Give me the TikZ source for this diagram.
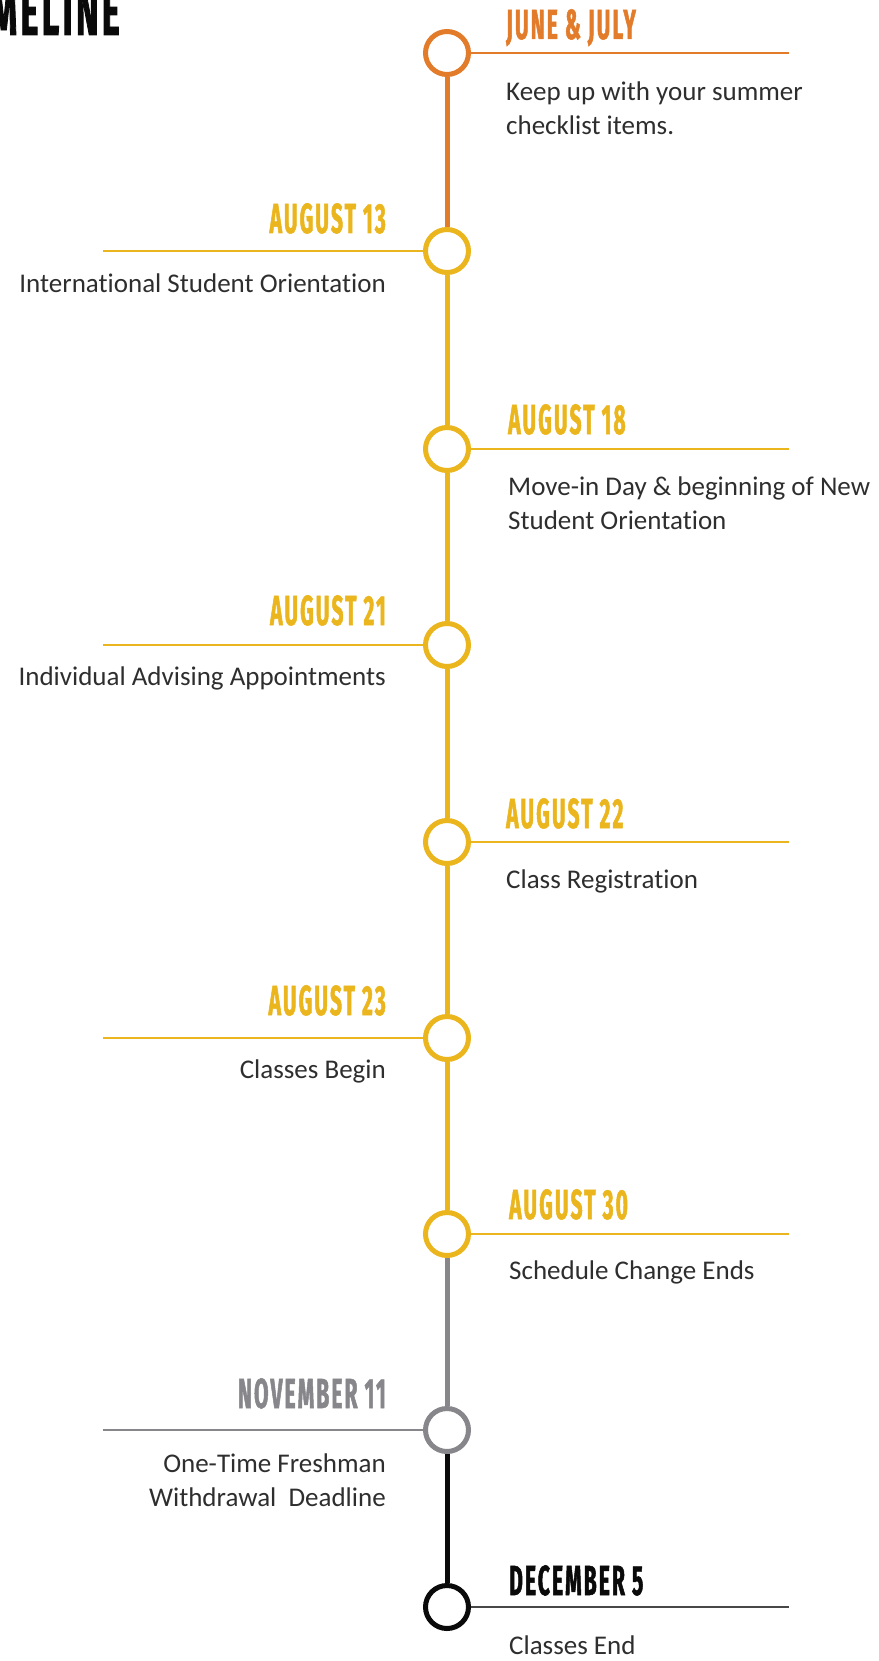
\documentclass[tikz,border=0pt]{standalone}
\usepackage{fontspec}
\setmainfont[Ligatures=NoCommon]{Carlito}
\newfontfamily\datefont[FakeStretch=0.5,FakeBold=1.2,LetterSpace=5]{Fira Sans Bold}
\usetikzlibrary{positioning,calc}

\definecolor{tlorange}{HTML}{E27B2A}
\definecolor{tlyellow}{HTML}{EAB51D}
\definecolor{tlgray}{HTML}{87878B}
\definecolor{tlblack}{HTML}{0A0A0A}
\definecolor{tltext}{HTML}{2E2E2E}

\begin{document}
\begin{tikzpicture}[
  x=1pt,y=-1pt,
  dot/.style={circle,draw=#1,fill=white,line width=5pt,minimum size=43pt,inner sep=0pt},
  spine/.style={draw=#1,line width=5pt},
  tick/.style={draw=#1,line width=1.3pt},
  datel/.style={font=\datefont\fontsize{42}{42}\selectfont,text=#1,inner sep=0pt},
  body/.style={font=\fontsize{27}{34}\selectfont,text=tltext,inner sep=0pt,align=#1},
  body/.default=left
]
\useasboundingbox (0,0) rectangle (878,1661);

% ends of the short rules
\coordinate (rx) at (789,0);
\coordinate (lx) at (103,0);

% title (runs off the left edge)
\node[datel=tlblack,font=\datefont\fontsize{68}{68}\selectfont,anchor=base east] (title) at (120,35) {TIMELINE};

% stops on the line
\node[dot=tlorange] (c1) at (447,53) {};
\node[dot=tlyellow] (c2) at (447,251) {};
\node[dot=tlyellow] (c3) at (447,449) {};
\node[dot=tlyellow] (c4) at (447,645) {};
\node[dot=tlyellow] (c5) at (447,842) {};
\node[dot=tlyellow] (c6) at (447,1038) {};
\node[dot=tlyellow] (c7) at (447,1234) {};
\node[dot=tlgray]   (c8) at (447,1430) {};
\node[dot=tlblack]  (c9) at (447,1607) {};

\draw[spine=tlorange] (c1) -- (c2);
\foreach \a/\b in {c2/c3,c3/c4,c4/c5,c5/c6,c6/c7} \draw[spine=tlyellow] (\a) -- (\b);
\draw[spine=tlgray] (c7) -- (c8);
\draw[spine=tlblack] (c8) -- (c9);

% rules
\draw[tick=tlorange] (c1) -- (c1 -| rx);
\draw[tick=tlyellow] (c2) -- (c2 -| lx);
\draw[tick=tlyellow] (c3) -- (c3 -| rx);
\draw[tick=tlyellow] (c4) -- (c4 -| lx);
\draw[tick=tlyellow] (c5) -- (c5 -| rx);
\draw[tick=tlyellow] (c6) -- (c6 -| lx);
\draw[tick=tlyellow] (c7) -- (c7 -| rx);
\draw[tick=tlgray]   (c8) -- (c8 -| lx);
\draw[tick=tlblack!75] (c9) -- (c9 -| rx);

% dates
\node[datel=tlorange,anchor=base west] (d1) at (506,39)   {JUNE \& JULY};
\node[datel=tlyellow,anchor=base east] (d2) at (386,233)  {AUGUST 13};
\node[datel=tlyellow,anchor=base west] (d3) at (508,434)  {AUGUST 18};
\node[datel=tlyellow,anchor=base east] (d4) at (386,625)  {AUGUST 21};
\node[datel=tlyellow,anchor=base west] (d5) at (506,828)  {AUGUST 22};
\node[datel=tlyellow,anchor=base east] (d6) at (386,1015) {AUGUST 23};
\node[datel=tlyellow,anchor=base west] (d7) at (509,1219) {AUGUST 30};
\node[datel=tlgray,anchor=base east]   (d8) at (386,1408) {NOVEMBER 11};
\node[datel=tlblack,anchor=base west]  (d9) at (509,1595) {DECEMBER 5};

% what happens (base = last line)
\node[body,anchor=base west] (t1) at (506,135)  {Keep up with your summer\\checklist items.};
\node[body=right,anchor=base east] (t2) at (386,293)  {International Student Orientation};
\node[body,anchor=base west] (t3) at (508,529)  {Move-in Day \& beginning of New\\Student Orientation};
\node[body=right,anchor=base east] (t4) at (386,685)  {Individual Advising Appointments};
\node[body,anchor=base west] (t5) at (506,888)  {Class Registration};
\node[body=right,anchor=base east] (t6) at (386,1078) {Classes Begin};
\node[body,anchor=base west] (t7) at (509,1279) {Schedule Change Ends};
\node[body=right,anchor=base east] (t8) at (386,1506) {One-Time Freshman\\Withdrawal\ \ Deadline};
\node[body,anchor=base west] (t9) at (509,1654) {Classes End};
\end{tikzpicture}
\end{document}
